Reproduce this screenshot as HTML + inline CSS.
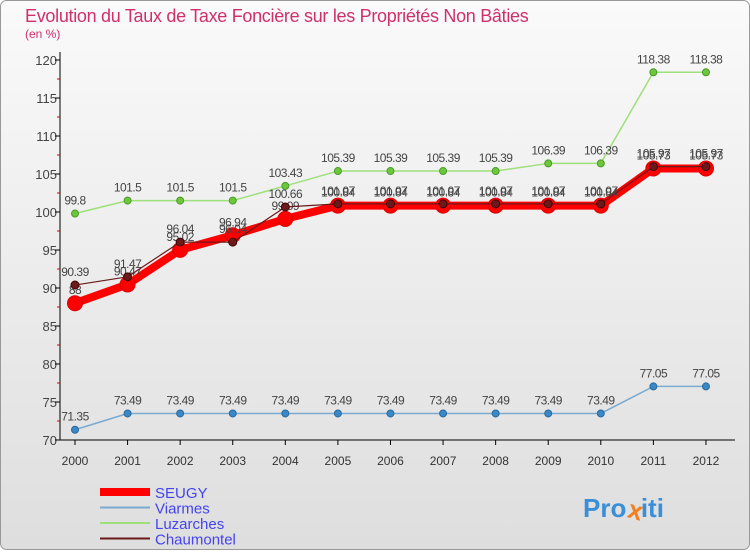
<!DOCTYPE html>
<html><head><meta charset="utf-8"><style>
body{margin:0;width:750px;height:550px;overflow:hidden;font-family:"Liberation Sans",sans-serif}
</style></head><body>
<svg width="750" height="550" xmlns="http://www.w3.org/2000/svg">
<defs><linearGradient id="bg" x1="0" y1="0" x2="0" y2="1"><stop offset="0" stop-color="#fafafa"/><stop offset="1" stop-color="#dedede"/></linearGradient></defs>
<rect x="0.5" y="0.5" width="749" height="549" rx="6" fill="url(#bg)" stroke="#999"/>
<text x="25" y="22" font-size="18" fill="#d0306a" letter-spacing="-0.3">Evolution du Taux de Taxe Foncière sur les Propriétés Non Bâties</text>
<text x="25" y="38" font-size="12" fill="#d0306a">(en %)</text>
<g id="axes"></g>
<g id="series"></g>
<g id="legend"></g>
<text x="583" y="517" font-size="26" font-weight="bold" fill="#3b8fd8">Pro<tspan fill="#f08020" rotate="15">x</tspan>iti</text>
</svg>
<script>
const years=["2000","2001","2002","2003","2004","2005","2006","2007","2008","2009","2010","2011","2012"];
const seugy=[88,90.47,95.02,96.94,99.09,100.84,100.84,100.84,100.84,100.84,100.84,105.73,105.73];
const viarmes=[71.35,73.49,73.49,73.49,73.49,73.49,73.49,73.49,73.49,73.49,73.49,77.05,77.05];
const luzarches=[99.8,101.5,101.5,101.5,103.43,105.39,105.39,105.39,105.39,106.39,106.39,118.38,118.38];
const chaumontel=[90.39,91.47,96.04,96.04,100.66,101.07,101.07,101.07,101.07,101.07,101.07,105.97,105.97];
const yTicks=[70,75,80,85,90,95,100,105,110,115,120];
const NS="http://www.w3.org/2000/svg";
const X=i=>75+i*52.58, Y=v=>440-(v-70)*7.6;
function mk(p,t,a){const e=document.createElementNS(NS,t);for(const k in a)e.setAttribute(k,a[k]);p.appendChild(e);return e;}
const ax=document.getElementById('axes');
let e=mk(ax,'line',{x1:60,y1:52,x2:60,y2:440,stroke:'#000'});


e=mk(ax,'line',{x1:60,y1:440,x2:735,y2:440,stroke:'#000'});


yTicks.forEach(v=>{
 const t=mk(ax,'text',{x:57,y:Y(v)+5,'text-anchor':'end','font-size':13,fill:'#444'});t.textContent=v;
 
 
 mk(ax,'line',{x1:55,x2:60,y1:Y(v),y2:Y(v),stroke:'#000'});
 if(v<120)mk(ax,'line',{x1:57,x2:60,y1:Y(v+2.5),y2:Y(v+2.5),stroke:'#d00'});
});
years.forEach((y,i)=>{
 const t=mk(ax,'text',{x:X(i),y:465,'text-anchor':'middle','font-size':12,fill:'#333'});t.textContent=y;
 
 
 mk(ax,'line',{x1:X(i),x2:X(i),y1:440,y2:445,stroke:'#000'});
});
const sg=document.getElementById('series');
function draw(name,data,color,w,r,dot,dotStroke){
 const g=mk(sg,'g',{});
 
 
 mk(g,'polyline',{points:data.map((v,i)=>X(i)+','+Y(v)).join(' '),fill:'none',stroke:color,'stroke-width':w,'stroke-linejoin':'round'});
 data.forEach((v,i)=>{
  const c=mk(g,'circle',{cx:X(i),cy:Y(v),r:r,fill:dot,stroke:dotStroke,'stroke-width':1});
  
  
  const t=mk(g,'text',{x:X(i),y:Y(v)-9,'text-anchor':'middle','font-size':12,fill:'#444','letter-spacing':'-0.5'});t.textContent=v;
  
  
 });
}
draw('viarmes',viarmes,'#7aaad0',1.5,3.5,'#3a88c8','#2a6a9a');
draw('luzarches',luzarches,'#9ee07a',1.5,3.5,'#6cc83a','#4a9a2a');
draw('seugy',seugy,'#ff0000',8,7.5,'#ff0000','#dd0000');
draw('chaumontel',chaumontel,'#6a1a1a',1.2,4,'#6a1a1a','#400');
const lg=document.getElementById('legend');
[['SEUGY','#ff0000',8],['Viarmes','#7aaad0',2],['Luzarches','#9ee07a',2],['Chaumontel','#6a1a1a',2]].forEach((d,i)=>{
 const y=492+i*15.5;
 const l=mk(lg,'line',{x1:100,x2:150,y1:y,y2:y,stroke:d[1],'stroke-width':d[2]});
 
 
 const t=mk(lg,'text',{x:155,y:y+6,'font-size':15,fill:'#4444ee'});t.textContent=d[0];
 
 
});
</script>
</body></html>
